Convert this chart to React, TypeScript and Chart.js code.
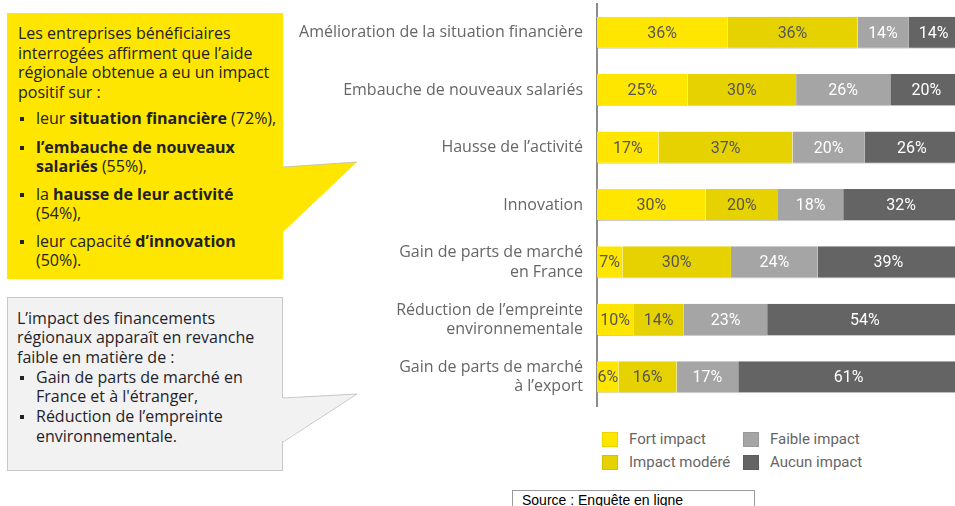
import React, { useEffect, useRef } from "react";
import { Chart, registerables } from "chart.js";

Chart.register(...registerables);

const categories: (string | string[])[] = [
  "Amélioration de la situation financière",
  "Embauche de nouveaux salariés",
  "Hausse de l’activité",
  "Innovation",
  ["Gain de parts de marché", "en France"],
  ["Réduction de l’empreinte", "environnementale"],
  ["Gain de parts de marché", "à l’export"],
];

const seriesNames = ["Fort impact", "Impact modéré", "Faible impact", "Aucun impact"];
const fortImpact = [36, 25, 17, 30, 7, 10, 6];
const impactModere = [36, 30, 37, 20, 30, 14, 16];
const faibleImpact = [14, 26, 20, 18, 24, 23, 17];
const aucunImpact = [14, 20, 26, 32, 39, 54, 61];

const seriesColors = ["#FFE600", "#E6D200", "#A5A5A5", "#646464"];
const labelColors = ["#555555", "#555555", "#FFFFFF", "#FFFFFF"];

const valueLabels = {
  id: "valueLabels",
  afterDatasetsDraw(chart: any) {
    const ctx = chart.ctx;
    chart.data.datasets.forEach((ds: any, i: number) => {
      const meta = chart.getDatasetMeta(i);
      meta.data.forEach((el: any, j: number) => {
        const p = el.getProps(["x", "y", "base"], true);
        ctx.save();
        ctx.font = "16px Roboto";
        ctx.fillStyle = labelColors[i];
        ctx.textAlign = "center";
        ctx.textBaseline = "middle";
        ctx.fillText(ds.data[j] + "%", (p.x + p.base) / 2, p.y + 1);
        ctx.restore();
      });
    });
  },
};

const BOX_FONT = "'Open Sans', sans-serif";

function Bullet({ children, gap }: { children: React.ReactNode; gap: number }) {
  return (
    <div style={{ position: "relative", paddingLeft: 29, marginTop: gap, whiteSpace: "nowrap" }}>
      <span
        style={{
          position: "absolute",
          left: 13,
          top: 8,
          width: 4,
          height: 4,
          background: "#222",
        }}
      />
      {children}
    </div>
  );
}

export default function App() {
  const canvasRef = useRef<HTMLCanvasElement | null>(null);

  useEffect(() => {
    if (!canvasRef.current) return;
    const data = [fortImpact, impactModere, faibleImpact, aucunImpact];
    const chart = new Chart(canvasRef.current, {
      type: "bar",
      data: {
        labels: categories,
        datasets: data.map((d, i) => ({
          label: seriesNames[i],
          data: d,
          backgroundColor: seriesColors[i],
          borderColor: "rgba(140,140,140,0.45)",
          borderWidth: { top: 0, right: 0, left: 0, bottom: 1 },
          borderSkipped: false,
          categoryPercentage: 1,
          barPercentage: 0.56,
        })),
      },
      options: {
        indexAxis: "y",
        animation: false,
        responsive: true,
        maintainAspectRatio: false,
        devicePixelRatio: 1,
        layout: { padding: { top: 4, bottom: 4, right: 11, left: 0 } },
        plugins: {
          legend: { display: false },
          tooltip: { enabled: false },
        },
        scales: {
          x: { stacked: true, min: 0, max: 100, display: false },
          y: {
            stacked: true,
            grid: { display: false },
            border: { display: true, color: "#8c8c8c", width: 2 },
            ticks: {
              color: "#666666",
              padding: 6,
              font: { family: "'Open Sans'", size: 16, lineHeight: 1.2 },
            },
            afterFit: (s: any) => {
              s.width = 307;
              s.paddingTop = 0;
              s.paddingBottom = 0;
            },
          },
        },
      },
      plugins: [valueLabels],
    } as any);
    return () => chart.destroy();
  }, []);

  const textStyle: React.CSSProperties = {
    fontFamily: BOX_FONT,
    fontSize: 16,
    lineHeight: "19.5px",
    color: "#222",
  };

  return (
    <div
      style={{
        position: "fixed",
        left: 0,
        top: 0,
        width: 955,
        height: 506,
        overflow: "hidden",
        background: "#fff",
      }}
    >
      {/* Yellow box */}
      <div
        style={{
          position: "absolute",
          left: 7,
          top: 13,
          width: 276,
          height: 266,
          background: "#FFE600",
          boxSizing: "border-box",
          padding: "11px 0 0 11px",
          ...textStyle,
        }}
      >
        <div style={{ whiteSpace: "nowrap" }}>
          Les entreprises bénéficiaires
          <br />
          interrogées affirment que l’aide
          <br />
          régionale obtenue a eu un impact
          <br />
          positif sur :
        </div>
        <div style={{ marginLeft: -11 }}>
          <Bullet gap={7}>
            leur <b>situation financière</b> (72%),
          </Bullet>
          <Bullet gap={9}>
            <b>l’embauche de nouveaux</b>
            <br />
            <b>salariés</b> (55%),
          </Bullet>
          <Bullet gap={8}>
            la <b>hausse de leur activité</b>
            <br />
            (54%),
          </Bullet>
          <Bullet gap={8}>
            leur capacité <b>d’innovation</b>
            <br />
            (50%).
          </Bullet>
        </div>
      </div>

      {/* Gray box */}
      <div
        style={{
          position: "absolute",
          left: 7,
          top: 297,
          width: 276,
          height: 174,
          background: "#F2F2F2",
          border: "1px solid #C8C8C8",
          boxSizing: "border-box",
          padding: "11px 0 0 9px",
          ...textStyle,
          lineHeight: "19.3px",
          color: "#1f1f2a",
        }}
      >
        <div style={{ whiteSpace: "nowrap" }}>
          L’impact des financements
          <br />
          régionaux apparaît en revanche
          <br />
          faible en matière de :
        </div>
        <div style={{ marginLeft: -10 }}>
          <Bullet gap={1}>
            Gain de parts de marché en
            <br />
            France et à l'étranger,
          </Bullet>
          <Bullet gap={1}>
            Réduction de l’empreinte
            <br />
            environnementale.
          </Bullet>
        </div>
      </div>

      {/* Pointers */}
      <svg
        width={955}
        height={506}
        style={{ position: "absolute", left: 0, top: 0, pointerEvents: "none" }}
      >
        <polygon points="282,167 357,162 282,233" fill="#FFE600" />
        <line x1={283} y1={167} x2={357} y2={162} stroke="#bbb" strokeWidth={0.8} />
        <polygon points="281,398 357,394 281,442" fill="#F2F2F2" />
        <polyline points="283,398 357,394 283,442" fill="none" stroke="#C8C8C8" strokeWidth={1} />
      </svg>

      {/* Chart */}
      <div style={{ position: "absolute", left: 290, top: 0, width: 680, height: 410 }}>
        <canvas ref={canvasRef} />
      </div>

      {/* Legend */}
      {seriesNames.map((name, i) => {
        const col = i === 0 || i === 1 ? 0 : 1;
        const row = i === 0 || i === 2 ? 0 : 1;
        const left = col === 0 ? 602 : 743;
        const top = row === 0 ? 432 : 455;
        return (
          <React.Fragment key={name}>
            <div
              style={{
                position: "absolute",
                left,
                top,
                width: 16,
                height: 15,
                background: seriesColors[i],
                boxSizing: "border-box",
                border: "1px solid rgba(0,0,0,0.08)",
              }}
            />
            <div
              style={{
                position: "absolute",
                left: left + 27,
                top: top - 2,
                fontFamily: "Roboto",
                fontSize: 15,
                lineHeight: "19px",
                color: "#666",
                whiteSpace: "nowrap",
              }}
            >
              {name}
            </div>
          </React.Fragment>
        );
      })}

      {/* Source */}
      <div
        style={{
          position: "absolute",
          left: 512,
          top: 490,
          width: 243,
          height: 30,
          border: "1px solid #9a9a9a",
          boxSizing: "border-box",
        }}
      />
      <div
        style={{
          position: "absolute",
          left: 522,
          top: 492,
          fontFamily: "'Liberation Sans', Arial, sans-serif",
          fontSize: 14,
          lineHeight: "16px",
          color: "#000",
          whiteSpace: "nowrap",
        }}
      >
        Source : Enquête en ligne
      </div>
    </div>
  );
}
